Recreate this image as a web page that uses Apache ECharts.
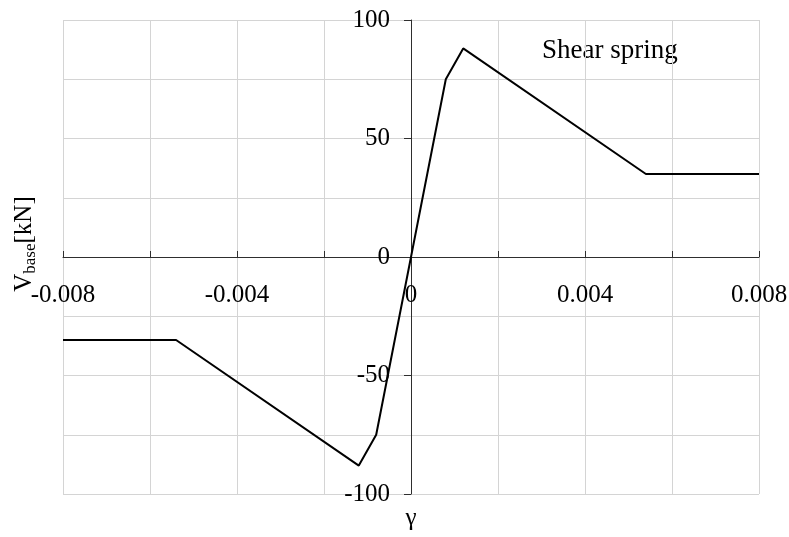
<!DOCTYPE html>
<html>
<head>
<meta charset="utf-8">
<script src="https://cdn.jsdelivr.net/npm/echarts@6/dist/echarts.min.js"></script>
<style>
  html, body { margin: 0; padding: 0; background: #ffffff; }
  #chart { width: 789px; height: 537px; }
</style>
</head>
<body>
<div id="chart"></div>
<script>
// Backbone curve of the shear spring: shear strain vs. base shear
const gammaValues = [-0.008, -0.0054, -0.0012, -0.0008, 0, 0.0008, 0.0012, 0.0054, 0.008];
const shearValues = [-35, -35, -88, -75, 0, 75, 88, 35, 35];

// Axis ranges and tick steps
const xRange = [-0.008, 0.008];
const xStep = 0.002;
const xLabelStep = 0.004;
const yRange = [-100, 100];
const yStep = 50;

const FONT = "'Liberation Serif', 'Times New Roman', serif";
const GRID_COLOR = '#d4d4d4';
const AXIS_COLOR = '#2e2e2e';

// Plot box
const GRID = { left: 63, right: 30, top: 20, bottom: 43 };
const W = 789, H = 537;
const plotW = W - GRID.left - GRID.right;
const plotH = H - GRID.top - GRID.bottom;

// The axes cross at the origin: shift each from its grid edge to the zero line
const xAxisOffset = -plotH * (0 - yRange[0]) / (yRange[1] - yRange[0]);
const yAxisOffset = -plotW * (0 - xRange[0]) / (xRange[1] - xRange[0]);

const points = gammaValues.map((g, i) => [g, shearValues[i]]);

const chart = echarts.init(document.getElementById('chart'), null, { renderer: 'canvas' });

chart.setOption({
  animation: false,
  backgroundColor: '#ffffff',
  grid: Object.assign({ containLabel: false, outerBoundsMode: 'none' }, GRID),
  xAxis: {
    type: 'value',
    position: 'bottom',
    offset: xAxisOffset,
    min: xRange[0],
    max: xRange[1],
    interval: xStep,
    axisLine: { onZero: false, lineStyle: { color: AXIS_COLOR, width: 1 } },
    axisTick: { show: true, inside: true, length: 6, lineStyle: { color: AXIS_COLOR } },
    splitLine: { show: true, lineStyle: { color: GRID_COLOR, width: 1 } },
    axisLabel: {
      show: true,
      margin: 26,
      fontFamily: FONT,
      fontSize: 25,
      color: '#000000',
      showMinLabel: true,
      showMaxLabel: true,
      formatter: function (v) {
        const k = Math.round(v / xStep);
        if (k % Math.round(xLabelStep / xStep) !== 0) return '';
        if (k === 0) return '0';
        return (k * xStep).toFixed(3);
      }
    }
  },
  yAxis: {
    type: 'value',
    position: 'left',
    offset: yAxisOffset,
    min: yRange[0],
    max: yRange[1],
    interval: yStep,
    axisLine: { onZero: false, lineStyle: { color: AXIS_COLOR, width: 1 } },
    axisTick: { show: true, inside: false, length: 7, lineStyle: { color: AXIS_COLOR } },
    minorTick: { show: false, splitNumber: 2 },
    splitLine: { show: true, lineStyle: { color: GRID_COLOR, width: 1 } },
    minorSplitLine: { show: true, lineStyle: { color: GRID_COLOR, width: 1 } },
    axisLabel: {
      margin: 21,
      fontFamily: FONT,
      fontSize: 25,
      color: '#000000',
      showMinLabel: true,
      showMaxLabel: true
    }
  },
  series: [{
    type: 'line',
    data: points,
    showSymbol: false,
    symbol: 'none',
    lineStyle: { color: '#000000', width: 2 },
    z: 5
  }],
  graphic: [
    {
      type: 'text',
      x: 24,
      y: 244,
      rotation: Math.PI / 2,
      style: {
        x: 0,
        y: 0,
        text: '{a|V}{b|base}{a|[kN]}',
        align: 'center',
        verticalAlign: 'middle',
        fill: '#000000',
        rich: {
          a: { fontFamily: FONT, fontSize: 25, lineHeight: 30, verticalAlign: 'middle' },
          b: { fontFamily: FONT, fontSize: 17, lineHeight: 30, verticalAlign: 'bottom', padding: [10, 0, 0, 0] }
        }
      }
    },
    {
      type: 'text',
      x: 411,
      y: 518,
      style: {
        text: 'γ',
        fontFamily: FONT,
        fontSize: 25,
        fill: '#000000',
        align: 'center',
        verticalAlign: 'middle'
      }
    },
    {
      type: 'text',
      x: 542,
      y: 51,
      style: {
        text: 'Shear spring',
        fontFamily: FONT,
        fontSize: 27,
        fill: '#000000',
        align: 'left',
        verticalAlign: 'middle'
      }
    }
  ]
});
</script>
</body>
</html>
